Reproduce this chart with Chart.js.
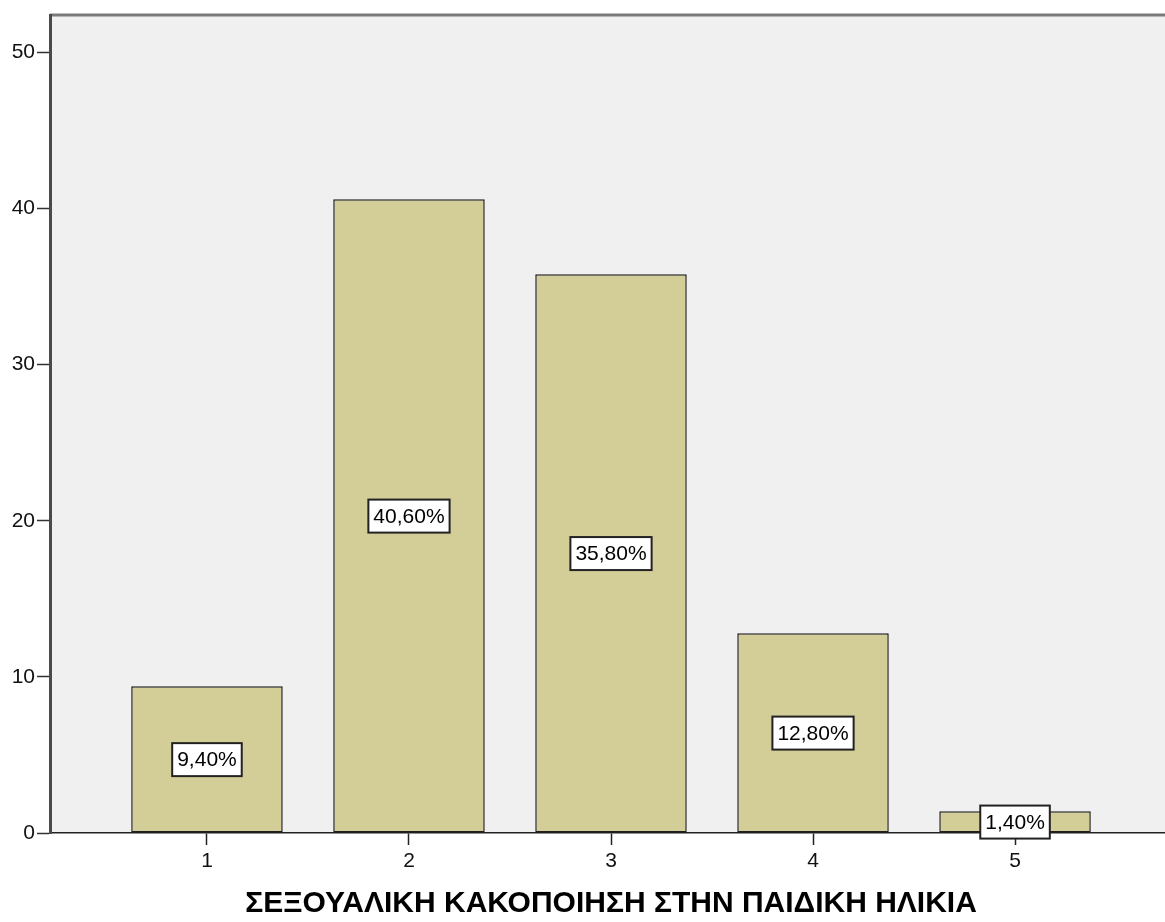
<!DOCTYPE html>
<html>
<head>
<meta charset="utf-8">
<title>ΣΕΞΟΥΑΛΙΚΗ ΚΑΚΟΠΟΙΗΣΗ ΣΤΗΝ ΠΑΙΔΙΚΗ ΗΛΙΚΙΑ</title>
<script src="https://cdn.jsdelivr.net/npm/chart.js@4/dist/chart.umd.min.js"></script>
<style>
  html, body { margin: 0; padding: 0; background: #fff; overflow: hidden; }
  canvas { display: block; }
</style>
</head>
<body>
<canvas id="grafico" width="1172" height="922"></canvas>
<script>
const categorias = [1, 2, 3, 4, 5];
const porcentajes = [9.4, 40.6, 35.8, 12.8, 1.4];
const ticksY = [0, 10, 20, 30, 40, 50];
const tituloX = "ΣΕΞΟΥΑΛΙΚΗ ΚΑΚΟΠΟΙΗΣΗ ΣΤΗΝ ΠΑΙΔΙΚΗ ΗΛΙΚΙΑ";

const fuente = "'Liberation Sans', Arial, sans-serif";

// fondo gris del area y borde superior
const fondoPlugin = {
  id: 'fondo',
  beforeDraw(chart) {
    const { ctx, chartArea: a } = chart;
    ctx.save();
    ctx.fillStyle = '#f0f0f0';
    ctx.fillRect(a.left, a.top, a.right - a.left, a.bottom - a.top);
    ctx.strokeStyle = '#7a7a7a';
    ctx.lineWidth = 3;
    ctx.beginPath();
    ctx.moveTo(a.left, a.top);
    ctx.lineTo(a.right, a.top);
    ctx.stroke();
    ctx.restore();
  }
};

// etiquetas con el porcentaje dentro de cada barra
const etiquetasPlugin = {
  id: 'etiquetas',
  afterDatasetsDraw(chart) {
    const { ctx, scales } = chart;
    ctx.save();
    ctx.font = '21px ' + fuente;
    ctx.textAlign = 'center';
    ctx.textBaseline = 'middle';
    porcentajes.forEach((v, i) => {
      const texto = v.toFixed(2).replace('.', ',') + '%';
      const x = scales.x.getPixelForValue(categorias[i]);
      const y = scales.y.getPixelForValue(v / 2);
      const w = ctx.measureText(texto).width + 10;
      const h = 33;
      ctx.fillStyle = '#ffffff';
      ctx.fillRect(x - w / 2, y - h / 2, w, h);
      ctx.strokeStyle = '#222222';
      ctx.lineWidth = 2;
      ctx.strokeRect(x - w / 2, y - h / 2, w, h);
      ctx.fillStyle = '#000000';
      ctx.fillText(texto, x, y + 1);
    });
    ctx.restore();
  }
};

new Chart(document.getElementById('grafico'), {
  type: 'bar',
  data: {
    datasets: [{
      data: categorias.map((c, i) => ({ x: c, y: porcentajes[i] })),
      backgroundColor: '#d3ce97',
      borderColor: '#1e1e1e',
      borderWidth: 1.5,
      borderSkipped: false,
      barPercentage: 0.75,
      categoryPercentage: 1
    }]
  },
  options: {
    responsive: false,
    animation: false,
    layout: { padding: { top: 15, right: 0, bottom: 0, left: 0 } },
    plugins: {
      legend: { display: false },
      tooltip: { enabled: false }
    },
    scales: {
      x: {
        type: 'linear',
        offset: false,
        min: 0.223,
        max: 5.777,
        afterBuildTicks(scale) {
          scale.ticks = categorias.map(v => ({ value: v }));
        },
        afterFit(scale) { scale.height = 89; },
        grid: {
          offset: false,
          drawOnChartArea: false,
          drawTicks: true,
          tickLength: 12,
          tickWidth: 1.5,
          tickColor: '#222'
        },
        border: { color: '#222', width: 1.5 },
        ticks: {
          padding: 4,
          color: '#111',
          font: { family: fuente, size: 21 },
          callback: v => String(v)
        },
        title: {
          display: true,
          text: tituloX,
          color: '#000',
          font: { family: fuente, size: 30, weight: 'bold' },
          padding: { top: 0, bottom: 0 }
        }
      },
      y: {
        min: 0,
        max: 52.4,
        afterBuildTicks(scale) {
          scale.ticks = ticksY.map(v => ({ value: v }));
        },
        afterFit(scale) { scale.width = 50; },
        grid: {
          drawOnChartArea: false,
          drawTicks: true,
          tickLength: 13,
          tickWidth: 1.5,
          tickColor: '#333'
        },
        border: { color: '#4a4a4a', width: 3 },
        ticks: {
          padding: 2,
          color: '#111',
          font: { family: fuente, size: 21 }
        }
      }
    }
  },
  plugins: [fondoPlugin, etiquetasPlugin]
});
</script>
</body>
</html>
